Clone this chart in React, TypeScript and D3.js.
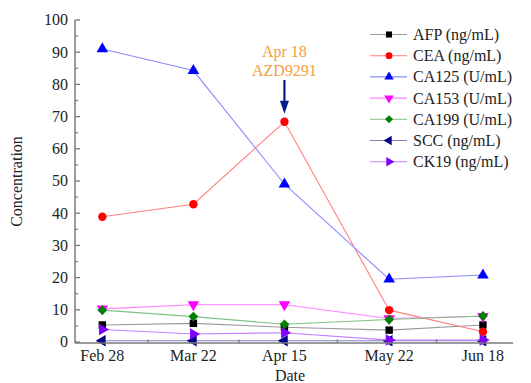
import * as React from "react";
import * as d3 from "d3";

// dates on the x axis; slots are the category positions
const dateLabels = ["Feb 28", "Mar 22", "Apr 15", "May 22", "Jun 18"];
const dateSlots = [1, 2, 3, 4.15, 5.18];
const minorTickSlots = [1.5, 2.5, 3.58, 4.67];
const yTicks = [0, 10, 20, 30, 40, 50, 60, 70, 80, 90, 100];

const afp = [5.3, 5.8, 4.6, 3.7, 5.3];
const cea = [38.9, 42.8, 68.4, 9.9, 3.2];
const ca125 = [91, 84.3, 49, 19.5, 20.8];
const ca153 = [10.3, 11.6, 11.6, 7.3, 8];
const ca199 = [9.9, 7.9, 5.5, 7.0, 8.1];
const scc = [0.4, 0.4, 0.4, 0.4, 0.4];
const ck19 = [3.9, 2.5, 2.9, 0.6, 0.6];

type Shape = "square" | "circle" | "up" | "down" | "diamond" | "left" | "right";

const series: { name: string; values: number[]; color: string; line: string; shape: Shape }[] = [
  { name: "AFP (ng/mL)", values: afp, color: "#000000", line: "#9a9a9a", shape: "square" },
  { name: "CEA (ng/mL)", values: cea, color: "#ff0000", line: "#ff8080", shape: "circle" },
  { name: "CA125 (U/mL)", values: ca125, color: "#0000ff", line: "#8c8cff", shape: "up" },
  { name: "CA153 (U/mL)", values: ca153, color: "#ff00ff", line: "#ff80ff", shape: "down" },
  { name: "CA199 (U/mL)", values: ca199, color: "#008000", line: "#80c080", shape: "diamond" },
  { name: "SCC (ng/mL)", values: scc, color: "#000080", line: "#8080c0", shape: "left" },
  { name: "CK19 (ng/mL)", values: ck19, color: "#8000ff", line: "#c080ff", shape: "right" },
];

const W = 531;
const H = 383;
const FONT = "'Liberation Serif', 'DejaVu Serif', serif";
const AXIS = "#7a7a7a";
const ORANGE = "#f5a03e";

function Marker({ shape, x, y, color, s = 1 }: { shape: Shape; x: number; y: number; color: string; s?: number }) {
  let sym: d3.SymbolType = d3.symbolTriangle;
  let size = 48 * s;
  let rot = 0;
  if (shape === "square") { sym = d3.symbolSquare; size = 46 * s; }
  else if (shape === "circle") { sym = d3.symbolCircle; size = 46 * s; }
  else if (shape === "diamond") { sym = d3.symbolSquare; size = 40 * s; rot = 45; }
  else if (shape === "down") rot = 180;
  else if (shape === "left") rot = -90;
  else if (shape === "right") rot = 90;
  const d = d3.symbol().type(sym).size(size)() ?? "";
  return <path d={d} fill={color} transform={`translate(${x},${y}) rotate(${rot})`} />;
}

export default function App() {
  const x = d3.scaleLinear().domain([0.7, 5.51]).range([75, 513]);
  const y = d3.scaleLinear().domain([-0.3, 100]).range([343, 20]);
  const y0 = y(-0.3);

  const line = d3
    .line<number>()
    .x((_, i) => x(dateSlots[i]))
    .y((v) => y(v));

  const minorY = d3.range(5, 100, 10);
  const arrowTip = y(cea[2]) - 8;
  const ax = x(dateSlots[2]);

  const legendX = 370;
  const legendY = 34.5;
  const legendStep = 21.2;

  return (
    <svg
      width={W}
      height={H}
      viewBox={`0 0 ${W} ${H}`}
      style={{ position: "absolute", left: 0, top: 0, background: "#fff" }}
      fontFamily={FONT}
    >
      {/* series lines + markers */}
      {series.map((s) => (
        <g key={s.name}>
          <path d={line(s.values) ?? ""} fill="none" stroke={s.line} strokeWidth={1.1} />
          {s.values.map((v, i) => (
            <Marker key={i} shape={s.shape} x={x(dateSlots[i])} y={y(v)} color={s.color} s={1.2} />
          ))}
        </g>
      ))}

      {/* y axis */}
      <line x1={x(0.7)} x2={x(0.7)} y1={y(100)} y2={y0} stroke={AXIS} strokeWidth={1.5} />
      {yTicks.map((t) => (
        <g key={t}>
          <line x1={x(0.7)} x2={x(0.7) + 5} y1={y(t)} y2={y(t)} stroke={AXIS} strokeWidth={1.3} />
          <text x={x(0.7) - 7} y={y(t)} dy="0.34em" textAnchor="end" fontSize={16} fill="#222">
            {t}
          </text>
        </g>
      ))}
      {minorY.map((t) => (
        <line key={t} x1={x(0.7)} x2={x(0.7) + 3} y1={y(t)} y2={y(t)} stroke={AXIS} strokeWidth={1.2} />
      ))}

      {/* x axis */}
      <line x1={x(0.7)} x2={x(5.51)} y1={y0} y2={y0} stroke={AXIS} strokeWidth={1.5} />
      {minorTickSlots.map((t) => (
        <line key={t} x1={x(t)} x2={x(t)} y1={y0} y2={y0 - 3.5} stroke={AXIS} strokeWidth={1.3} />
      ))}
      {dateLabels.map((lab, i) => (
        <text key={lab} x={x(dateSlots[i])} y={361} textAnchor="middle" fontSize={16} fill="#222">
          {lab}
        </text>
      ))}

      {/* axis titles */}
      <text x={290} y={381} textAnchor="middle" fontSize={16} fill="#222">
        Date
      </text>
      <text
        transform={`translate(22,${(y(100) + y0) / 2}) rotate(-90)`}
        textAnchor="middle"
        fontSize={16}
        fill="#222"
      >
        Concentration
      </text>

      {/* annotation */}
      <text x={ax} y={57} textAnchor="middle" fontSize={16} fill={ORANGE}>
        Apr 18
      </text>
      <text x={ax} y={75.5} textAnchor="middle" fontSize={16} fill={ORANGE}>
        AZD9291
      </text>
      <line x1={ax} x2={ax} y1={80} y2={arrowTip - 10} stroke="#0a1a8c" strokeWidth={2.2} />
      <path
        d={`M${ax - 4.5},${arrowTip - 13}L${ax + 4.5},${arrowTip - 13}L${ax},${arrowTip}Z`}
        fill="#0a1a8c"
      />

      {/* legend */}
      {series.map((s, i) => {
        const ly = legendY + i * legendStep;
        return (
          <g key={s.name}>
            <line x1={legendX} x2={legendX + 37} y1={ly} y2={ly} stroke={s.line} strokeWidth={1.1} />
            <Marker shape={s.shape} x={legendX + 19} y={ly} color={s.color} s={0.8} />
            <text x={legendX + 43} y={ly} dy="0.34em" fontSize={16} fill="#222">
              {s.name}
            </text>
          </g>
        );
      })}
    </svg>
  );
}
